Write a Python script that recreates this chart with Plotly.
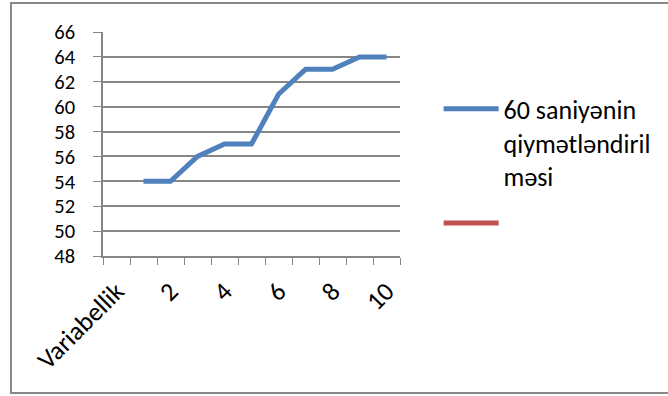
import plotly.graph_objects as go

categories = ["Variabellik", "1", "2", "3", "4", "5", "6", "7", "8", "9", "10"]
series_values = [None, 54, 54, 56, 57, 57, 61, 63, 63, 64, 64]
second_values = [None] * len(categories)
series_name = "60 saniyənin<br>qiymətləndiril<br>məsi"
tick_labels = ["Variabellik", "", "2", "", "4", "", "6", "", "8", "", "10"]

FONT = "Carlito, Lato, 'Liberation Sans', sans-serif"
GRID = "#868686"

fig = go.Figure()
fig.add_trace(go.Scatter(x=categories, y=series_values, mode="lines", name=series_name,
                         line=dict(color="#4F81BD", width=5), legendgroup="a"))
fig.add_trace(go.Scatter(x=categories, y=second_values, mode="lines", name=" ",
                         line=dict(color="#C0504D", width=5), legendgroup="b"))

fig.update_layout(
    width=668, height=396,
    margin=dict(l=103, r=268, t=32, b=140),
    paper_bgcolor="white", plot_bgcolor="white",
    font=dict(family=FONT, size=23, color="black"),
    showlegend=True,
    legend=dict(x=1.13, y=0.762, xanchor="left", yanchor="top", valign="top",
                itemwidth=55, tracegroupgap=10, font=dict(size=26),
                bgcolor="rgba(0,0,0,0)"),
    xaxis=dict(type="category", categoryorder="array", categoryarray=categories,
               tickmode="array", tickvals=categories, ticktext=tick_labels,
               tickson="boundaries", ticks="outside", ticklen=7, tickcolor=GRID,
               showline=True, linecolor=GRID, linewidth=1.5, showgrid=False,
               tickangle=-45, range=[-0.5, 10.5], fixedrange=True, automargin=False,
               tickfont=dict(size=26), ticklabelstandoff=8),
    yaxis=dict(range=[48, 66], dtick=2, tick0=48, ticks="outside", ticklen=8,
               tickcolor=GRID, showline=True, linecolor=GRID, linewidth=1.5,
               showgrid=True, gridcolor=GRID, gridwidth=1.5, zeroline=False,
               fixedrange=True, automargin=False,
               tickfont=dict(size=20.5), ticklabelstandoff=14),
    shapes=[dict(type="rect", xref="paper", yref="paper",
                 x0=-0.3098, x1=1.95, y0=-0.6116, y1=1.1295,
                 line=dict(color="#888888", width=2), fillcolor="rgba(0,0,0,0)")],
)

fig.write_html("out.html", config={"displayModeBar": False},
               post_script="document.body.style.margin='0';")
